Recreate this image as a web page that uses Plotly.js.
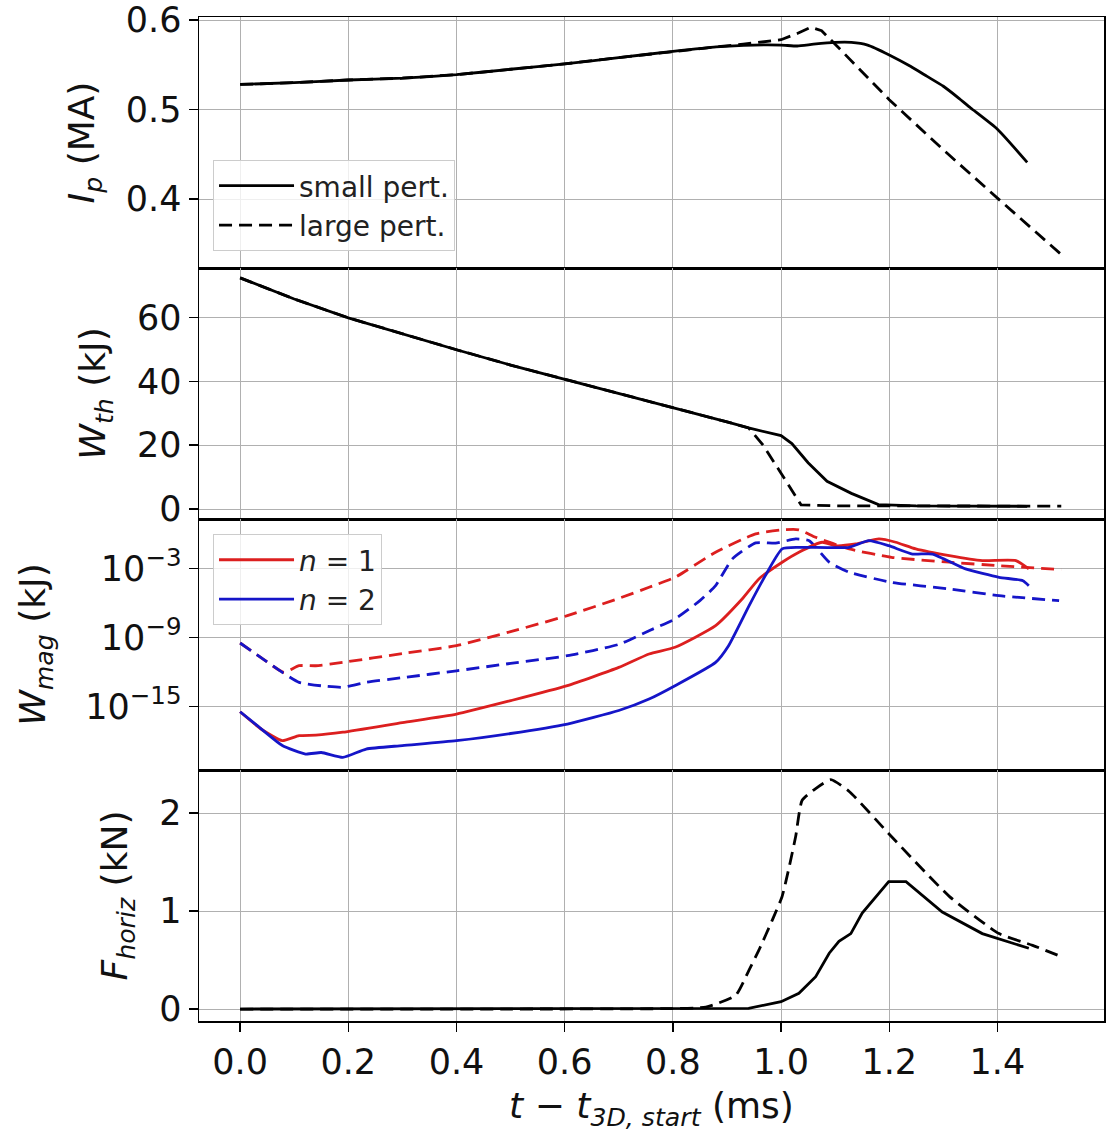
<!DOCTYPE html>
<html>
<head>
<meta charset="utf-8">
<script src="https://cdn.plot.ly/plotly-3.0.1.min.js"></script>
<style>html,body{margin:0;padding:0;background:#fff;}#chart{width:1108px;height:1139px;}</style>
</head>
<body>
<div id="chart"></div>
<script>
// ---- Panel 1: plasma current Ip (MA)
const ipSmallT = [0, 0.1, 0.2, 0.3, 0.4, 0.5, 0.6, 0.7, 0.8, 0.88, 0.95, 1.0, 1.03, 1.06, 1.1, 1.13, 1.16, 1.2, 1.24, 1.27, 1.3, 1.33, 1.35, 1.4, 1.455];
const ipSmall  = [0.528, 0.530, 0.533, 0.535, 0.539, 0.545, 0.551, 0.558, 0.565, 0.570, 0.572, 0.572, 0.571, 0.573, 0.575, 0.575, 0.572, 0.561, 0.548, 0.537, 0.526, 0.512, 0.502, 0.478, 0.441];
const ipLargeT = [0, 0.1, 0.2, 0.3, 0.4, 0.5, 0.6, 0.7, 0.8, 0.88, 0.93, 0.97, 1.0, 1.03, 1.055, 1.075, 1.1, 1.2, 1.3, 1.4, 1.518];
const ipLarge  = [0.528, 0.530, 0.533, 0.535, 0.539, 0.545, 0.551, 0.558, 0.565, 0.570, 0.573, 0.576, 0.578, 0.585, 0.592, 0.588, 0.573, 0.511, 0.455, 0.401, 0.338];

// ---- Panel 2: thermal energy Wth (kJ)
const wthSmallT = [0, 0.05, 0.1, 0.2, 0.3, 0.4, 0.5, 0.6, 0.7, 0.8, 0.9, 0.94, 1.0, 1.02, 1.05, 1.085, 1.13, 1.18, 1.25, 1.35, 1.455];
const wthSmall  = [72.4, 69.0, 65.8, 59.9, 54.8, 49.9, 45.1, 40.7, 36.3, 31.9, 27.3, 25.4, 23.0, 20.5, 14.5, 8.7, 4.9, 1.4, 1.0, 0.9, 0.85];
const wthLargeT = [0, 0.05, 0.1, 0.2, 0.3, 0.4, 0.5, 0.6, 0.7, 0.8, 0.9, 0.94, 0.966, 1.0, 1.037, 1.1, 1.3, 1.518];
const wthLarge  = [72.4, 69.0, 65.8, 59.9, 54.8, 49.9, 45.1, 40.7, 36.3, 31.9, 27.3, 25.4, 20.2, 11.2, 1.3, 1.0, 0.95, 0.9];

// ---- Panel 3: magnetic energy Wmag (kJ), per toroidal mode
const wmagN1LargeT = [0, 0.04, 0.081, 0.109, 0.14, 0.19, 0.3, 0.4, 0.5, 0.605, 0.7, 0.756, 0.804, 0.879, 0.953, 1.004, 1.033, 1.064, 1.126, 1.204, 1.311, 1.403, 1.518];
const wmagN1Large  = [3.3e-10, 1.6e-11, 9.3e-13, 3.5e-12, 3.5e-12, 6.9e-12, 4.0e-11, 1.95e-10, 3.2e-9, 7.9e-8, 2.5e-6, 2.3e-5, 1.7e-4, 2.6e-2, 1.0, 2.3, 2.3, 0.51, 0.05, 9.3e-3, 3.5e-3, 1.74e-3, 7.9e-4];
const wmagN2LargeT = [0, 0.04, 0.078, 0.109, 0.15, 0.19, 0.233, 0.3, 0.4, 0.5, 0.605, 0.7, 0.756, 0.804, 0.85, 0.879, 0.91, 0.953, 0.99, 1.027, 1.052, 1.089, 1.126, 1.204, 1.311, 1.403, 1.514];
const wmagN2Large  = [3.3e-10, 1.6e-11, 9.3e-13, 1.26e-13, 6.3e-14, 4.7e-14, 1.26e-13, 3.2e-13, 1.26e-12, 5.6e-12, 2.6e-11, 2.5e-10, 3.9e-9, 4.1e-8, 1.6e-6, 3.2e-5, 6.8e-3, 1.66e-1, 1.6e-1, 3.7e-1, 2.6e-1, 3.5e-3, 4.7e-4, 6.3e-5, 1.66e-5, 4.3e-6, 1.6e-6];
const wmagN1SmallT = [0, 0.04, 0.078, 0.109, 0.14, 0.19, 0.3, 0.4, 0.5, 0.605, 0.7, 0.756, 0.804, 0.879, 0.928, 0.959, 1.002, 1.033, 1.076, 1.101, 1.138, 1.181, 1.212, 1.249, 1.311, 1.372, 1.434, 1.458];
const wmagN1Small  = [3.5e-16, 1.0e-17, 1.07e-18, 2.9e-18, 3.2e-18, 5.8e-18, 4.0e-17, 2.2e-16, 3.2e-15, 6.5e-14, 2.5e-12, 3.7e-11, 1.4e-10, 1.07e-8, 2.2e-6, 1.23e-4, 3.5e-3, 2.6e-2, 0.19, 0.095, 0.135, 0.37, 0.19, 0.05, 1.3e-2, 4.8e-3, 4.8e-3, 9.1e-4];
const wmagN2SmallT = [0, 0.03, 0.078, 0.121, 0.15, 0.19, 0.233, 0.3, 0.4, 0.5, 0.605, 0.7, 0.756, 0.804, 0.879, 0.903, 0.941, 0.971, 1.002, 1.033, 1.126, 1.162, 1.199, 1.243, 1.28, 1.341, 1.403, 1.447, 1.458];
const wmagN2Small  = [3.5e-16, 2.5e-17, 4.0e-19, 7.4e-20, 1.0e-19, 3.8e-20, 2.0e-19, 4.0e-19, 1.07e-18, 4.5e-18, 3.0e-17, 4.5e-16, 4.5e-15, 6.5e-14, 6.9e-12, 1.95e-10, 5.9e-7, 2.4e-4, 5.0e-2, 6.9e-2, 6.9e-2, 0.26, 0.095, 1.8e-2, 1.8e-2, 9.1e-4, 1.7e-4, 8.7e-5, 3.2e-5];

// ---- Panel 4: horizontal force Fhoriz (kN)
const fSmallT = [0, 0.5, 0.85, 0.94, 1.0, 1.033, 1.064, 1.089, 1.107, 1.129, 1.15, 1.199, 1.231, 1.26, 1.298, 1.372, 1.458];
const fSmall  = [0, 0, 0, 0.007, 0.075, 0.16, 0.33, 0.57, 0.69, 0.77, 0.98, 1.30, 1.30, 1.17, 0.99, 0.77, 0.62];
const fLargeT = [0, 0.5, 0.8, 0.861, 0.916, 0.941, 0.959, 0.984, 1.002, 1.015, 1.027, 1.039, 1.064, 1.092, 1.126, 1.204, 1.311, 1.403, 1.465, 1.52];
const fLarge  = [0, 0, 0.005, 0.02, 0.14, 0.40, 0.60, 0.91, 1.15, 1.45, 1.76, 2.13, 2.25, 2.34, 2.22, 1.76, 1.15, 0.77, 0.65, 0.53];

// ---- labels
const legendLabels = ['small pert.', 'large pert.'];
const modeLabels = ['<i>n</i> = 1', '<i>n</i> = 2'];
const yTitles = ['<i>I</i><sub><i>p</i></sub> (MA)', '<i>W</i><sub><i>th</i></sub> (kJ)', '<i>W</i><sub><i>mag</i></sub> (kJ)', '<i>F</i><sub><i>horiz</i></sub> (kN)'];
const xTitle = '<i>t</i> − <i>t</i><sub><i>3D, start</i></sub> (ms)';
const ipTickVals = [0.4, 0.5, 0.6];
const ipTickText = ['0.4', '0.5', '0.6'];
const wthTickVals = [0, 20, 40, 60];
const logTickVals = [1e-15, 1e-9, 1e-3];
const logTickText = ['10<sup>−15</sup>', '10<sup>−9</sup>', '10<sup>−3</sup>'];
const fTickVals = [0, 1, 2];

const BLACK = '#000000', RED = '#dc1f1f', BLUE = '#1515c8';
const LW = 2.8, DASH = '13px,7px';
const FONT = 'DejaVu Sans, Liberation Sans, sans-serif';

function line(x, y, ax, color, dash, name, legend, smooth) {
  return {
    x: x, y: y, xaxis: ax[0], yaxis: ax[1], type: 'scatter', mode: 'lines',
    line: {color: color, width: LW, dash: dash ? DASH : 'solid', shape: smooth ? 'spline' : 'linear', smoothing: 0.5},
    name: name || '', showlegend: !!legend, legend: legend || 'legend', hoverinfo: 'skip'
  };
}

const traces = [
  line(ipSmallT, ipSmall, ['x', 'y'], BLACK, false, legendLabels[0], 'legend', true),
  line(ipLargeT, ipLarge, ['x', 'y'], BLACK, true, legendLabels[1], 'legend', false),
  line(wthSmallT, wthSmall, ['x2', 'y2'], BLACK, false, '', null, false),
  line(wthLargeT, wthLarge, ['x2', 'y2'], BLACK, true, '', null, false),
  line(wmagN1LargeT, wmagN1Large, ['x3', 'y3'], RED, true, '', null, true),
  line(wmagN2LargeT, wmagN2Large, ['x3', 'y3'], BLUE, true, '', null, true),
  line(wmagN1SmallT, wmagN1Small, ['x3', 'y3'], RED, false, modeLabels[0], 'legend2', true),
  line(wmagN2SmallT, wmagN2Small, ['x3', 'y3'], BLUE, false, modeLabels[1], 'legend2', true),
  line(fSmallT, fSmall, ['x4', 'y4'], BLACK, false, '', null, false),
  line(fLargeT, fLarge, ['x4', 'y4'], BLACK, true, '', null, true)
];

const TICK = 35, TITLE = 36, LEG = 28;
const axisCommon = {
  showline: true, mirror: true, linecolor: '#000', linewidth: 1.5,
  showgrid: true, gridcolor: '#b0b0b0', gridwidth: 1,
  ticks: 'outside', ticklen: 9, tickwidth: 1.5, tickcolor: '#000',
  zeroline: false, tickfont: {family: FONT, size: TICK, color: '#111'}
};
const xCommon = Object.assign({}, axisCommon, {range: [-0.076, 1.597], tick0: 0, dtick: 0.2, tickformat: '.1f'});
const titleFont = {family: FONT, size: TITLE, color: '#111'};
const legendBase = {xanchor: 'left', yanchor: 'top', bgcolor: 'rgba(255,255,255,0.8)', bordercolor: '#cccccc', borderwidth: 1, font: {family: FONT, size: LEG, color: '#222'}, traceorder: 'normal', itemwidth: 75};

const layout = {
  width: 1108, height: 1139,
  margin: {l: 199, r: 4, t: 17, b: 118},
  paper_bgcolor: '#fff', plot_bgcolor: '#fff',
  font: {family: FONT, color: '#111'},
  xaxis: Object.assign({}, xCommon, {anchor: 'y', showticklabels: false, ticks: ''}),
  xaxis2: Object.assign({}, xCommon, {anchor: 'y2', matches: 'x', showticklabels: false, ticks: ''}),
  xaxis3: Object.assign({}, xCommon, {anchor: 'y3', matches: 'x', showticklabels: false, ticks: ''}),
  xaxis4: Object.assign({}, xCommon, {anchor: 'y4', matches: 'x', title: {text: xTitle, font: titleFont, standoff: 12}}),
  yaxis: Object.assign({}, axisCommon, {domain: [0.75, 1], anchor: 'x', range: [0.3229, 0.6034], tickmode: 'array', tickvals: ipTickVals, ticktext: ipTickText, title: {text: yTitles[0], font: titleFont, standoff: 20}}),
  yaxis2: Object.assign({}, axisCommon, {domain: [0.5, 0.75], anchor: 'x2', range: [-3.13, 75.5], tickmode: 'array', tickvals: wthTickVals, title: {text: yTitles[1], font: titleFont, standoff: 20}}),
  yaxis3: Object.assign({}, axisCommon, {domain: [0.25, 0.5], anchor: 'x3', type: 'log', range: [-20.52, 1.30], tickmode: 'array', tickvals: logTickVals, ticktext: logTickText, title: {text: yTitles[2], font: titleFont, standoff: 28}}),
  yaxis4: Object.assign({}, axisCommon, {domain: [0, 0.25], anchor: 'x4', range: [-0.122, 2.439], tickmode: 'array', tickvals: fTickVals, title: {text: yTitles[3], font: titleFont, standoff: 20}}),
  legend: Object.assign({}, legendBase, {x: 0.0155, y: 0.8576}),
  legend2: Object.assign({}, legendBase, {x: 0.0155, y: 0.485})
};

Plotly.newPlot('chart', traces, layout, {staticPlot: true, displayModeBar: false});
</script>
</body>
</html>
